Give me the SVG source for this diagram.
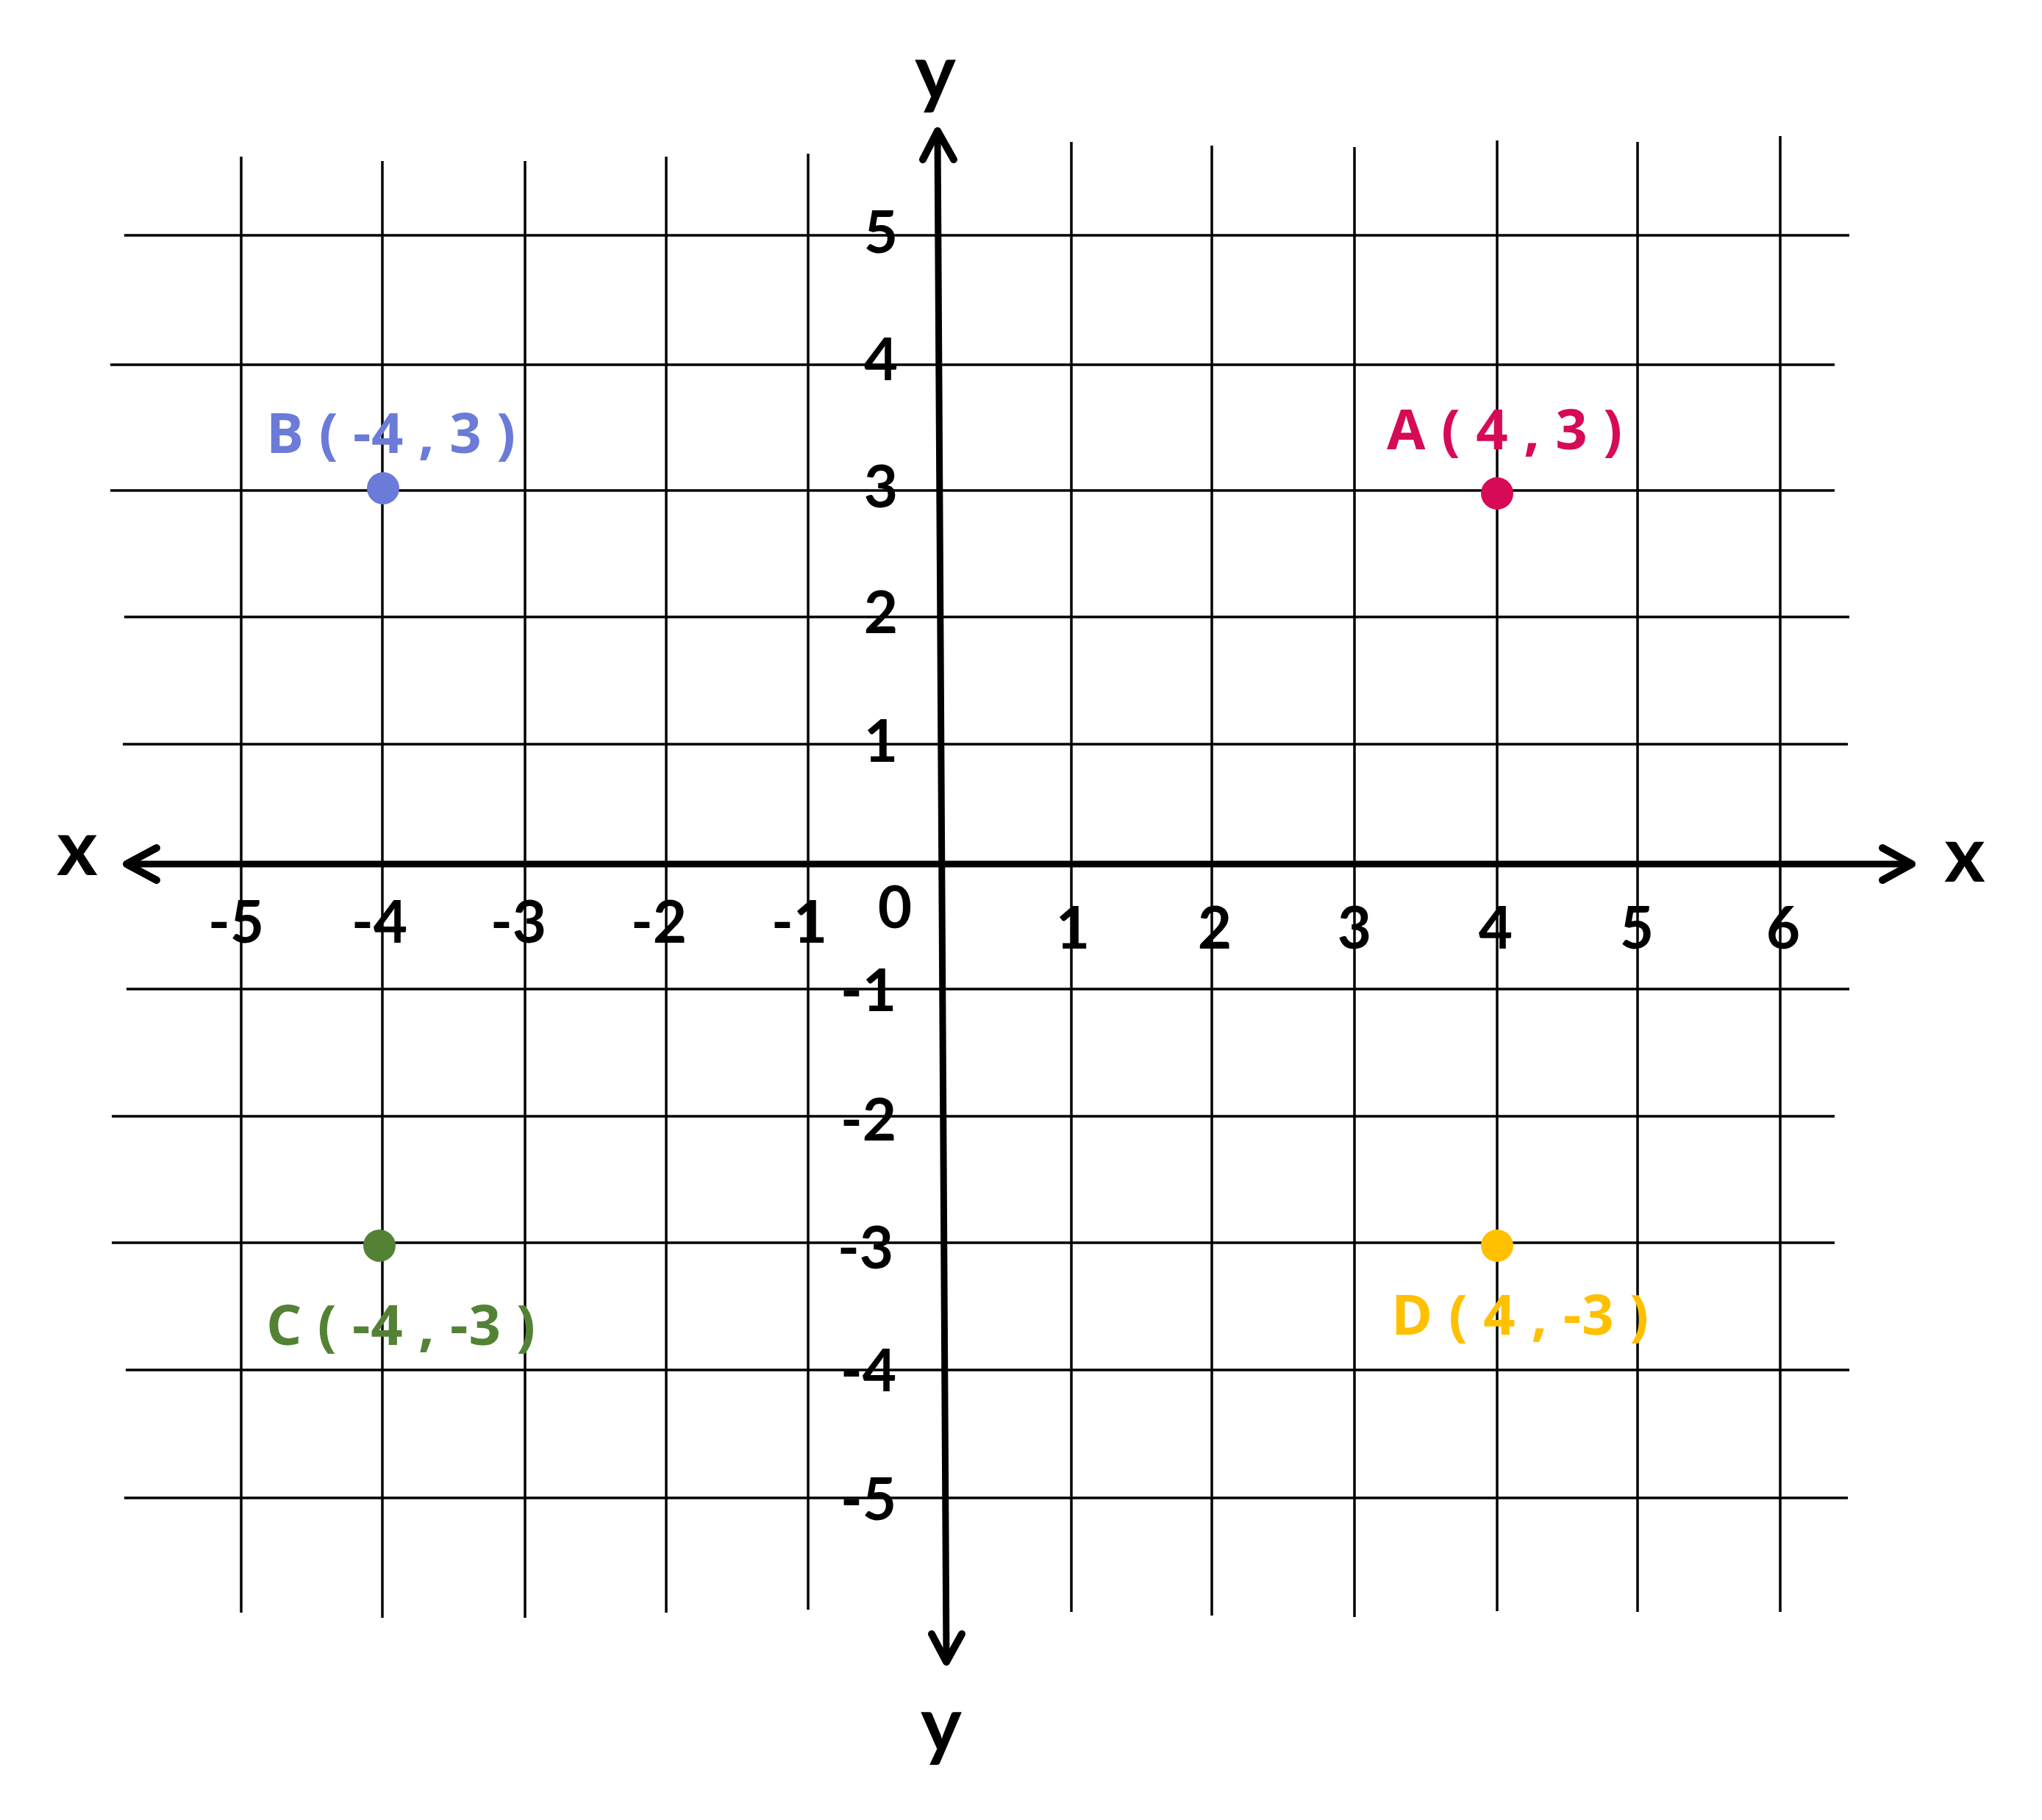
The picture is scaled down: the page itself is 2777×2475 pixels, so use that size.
<svg xmlns="http://www.w3.org/2000/svg" width="2777" height="2475" viewBox="0 0 2777 2475">
<style>
.g{stroke:#000;stroke-width:3.5;fill:none}
.ax{stroke:#000;stroke-width:9;fill:none;stroke-linecap:round}
.ah{stroke:#000;stroke-width:10;fill:none;stroke-linecap:round;stroke-linejoin:round}
.n{font-family:Lato,"Liberation Sans",sans-serif;font-weight:700;font-size:80px;fill:#000;text-anchor:middle}
.al{font-family:Lato,"Liberation Sans",sans-serif;font-weight:700;font-size:106px;fill:#000;text-anchor:middle}
.pl{font-family:"Open Sans","Liberation Sans",sans-serif;font-weight:700;font-size:76px}
</style>
<rect width="2777" height="2475" fill="#fff"/>
<g id="grid">
<line class="g" x1="328" y1="213" x2="328" y2="2193"/>
<line class="g" x1="520" y1="219" x2="520" y2="2200"/>
<line class="g" x1="714" y1="219" x2="714" y2="2200"/>
<line class="g" x1="906" y1="213" x2="906" y2="2193"/>
<line class="g" x1="1099" y1="209" x2="1099" y2="2189"/>
<line class="g" x1="1457" y1="193" x2="1457" y2="2192"/>
<line class="g" x1="1648" y1="198" x2="1648" y2="2197"/>
<line class="g" x1="1842" y1="200" x2="1842" y2="2199"/>
<line class="g" x1="2036" y1="191" x2="2036" y2="2191"/>
<line class="g" x1="2227" y1="193" x2="2227" y2="2192"/>
<line class="g" x1="2421" y1="185" x2="2421" y2="2192"/>
<line class="g" x1="169" y1="320" x2="2515" y2="320"/>
<line class="g" x1="150" y1="496" x2="2495" y2="496"/>
<line class="g" x1="150" y1="667" x2="2495" y2="667"/>
<line class="g" x1="169" y1="839" x2="2515" y2="839"/>
<line class="g" x1="167" y1="1012" x2="2513" y2="1012"/>
<line class="g" x1="172" y1="1345" x2="2515" y2="1345"/>
<line class="g" x1="152" y1="1518" x2="2495" y2="1518"/>
<line class="g" x1="152" y1="1690" x2="2495" y2="1690"/>
<line class="g" x1="171" y1="1863" x2="2515" y2="1863"/>
<line class="g" x1="169" y1="2037" x2="2513" y2="2037"/>
</g>
<g id="axes">
<line class="ax" x1="175" y1="1175" x2="2597" y2="1175"/>
<line class="ax" x1="1275" y1="182" x2="1287" y2="2256"/>
<polyline class="ah" points="213,1153 172,1175 213,1197"/>
<polyline class="ah" points="2560,1153 2600,1175 2560,1197"/>
<polyline class="ah" points="1255,217 1275,178 1297,217"/>
<polyline class="ah" points="1267,2222 1287,2260 1308,2222"/>
</g>
<g id="axis-labels">
<text class="al" x="105" y="1190">x</text>
<text class="al" x="2672" y="1199">x</text>
<text class="al" x="1272" y="135">y</text>
<text class="al" x="1280" y="2382">y</text>
</g>
<g id="ticks-y">
<text class="n" x="1198" y="344">5</text>
<text class="n" x="1198" y="517">4</text>
<text class="n" x="1198" y="690">3</text>
<text class="n" x="1198" y="861">2</text>
<text class="n" x="1198" y="1036">1</text>
<text class="n" x="1217" y="1262">0</text>
<text class="n" x="1181" y="1375">-1</text>
<text class="n" x="1181" y="1551">-2</text>
<text class="n" x="1177" y="1725">-3</text>
<text class="n" x="1181" y="1892">-4</text>
<text class="n" x="1181" y="2067">-5</text>
</g>
<g id="ticks-x">
<text class="n" x="321" y="1282">-5</text>
<text class="n" x="516" y="1282">-4</text>
<text class="n" x="705" y="1282">-3</text>
<text class="n" x="896" y="1282">-2</text>
<text class="n" x="1087" y="1282">-1</text>
<text class="n" x="1459" y="1290">1</text>
<text class="n" x="1652" y="1290">2</text>
<text class="n" x="1842" y="1290">3</text>
<text class="n" x="2034" y="1290">4</text>
<text class="n" x="2226" y="1290">5</text>
<text class="n" x="2425" y="1290">6</text>
</g>
<g id="point-A">
<circle cx="2036" cy="671" r="22" fill="#d60a56"/>
<text class="pl" x="1886" y="611" fill="#d60a56" textLength="320" lengthAdjust="spacing">A ( 4 , 3 )</text>
</g>
<g id="point-B">
<circle cx="521" cy="664" r="22" fill="#6a7bd8"/>
<text class="pl" x="362" y="616" fill="#6a7bd8" textLength="339" lengthAdjust="spacing">B ( -4 , 3 )</text>
</g>
<g id="point-C">
<circle cx="516" cy="1694" r="22" fill="#548235"/>
<text class="pl" x="362" y="1829" fill="#548235" textLength="366" lengthAdjust="spacing">C ( -4 , -3 )</text>
</g>
<g id="point-D">
<circle cx="2036" cy="1694" r="22" fill="#ffc000"/>
<text class="pl" x="1892" y="1815" fill="#ffc000" textLength="350" lengthAdjust="spacing">D ( 4 , -3 )</text>
</g>
</svg>
